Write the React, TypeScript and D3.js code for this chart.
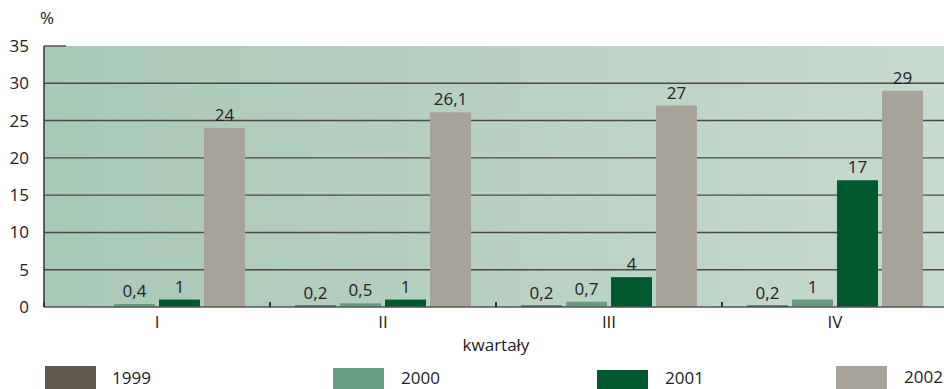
import React from "react";
import * as d3 from "d3";

const quarters = ["I", "II", "III", "IV"];
const seriesNames = ["1999", "2000", "2001", "2002"];
const values1999 = [0, 0.2, 0.2, 0.2];
const values2000 = [0.4, 0.5, 0.7, 1];
const values2001 = [1, 1, 4, 17];
const values2002 = [24, 26.1, 27, 29];
const labels1999 = ["", "0,2", "0,2", "0,2"];
const labels2000 = ["0,4", "0,5", "0,7", "1"];
const labels2001 = ["1", "1", "4", "17"];
const labels2002 = ["24", "26,1", "27", "29"];
const yTicks = [0, 5, 10, 15, 20, 25, 30, 35];

const legendColors = ["#615a4c", "#679c80", "#005a2d", "#a8a398"];
const barColors = ["#005a2d", "#679c80", "#005a2d", "#a8a398"];

const W = 944;
const H = 389;
const FONT = "'Open Sans', 'Noto Sans', sans-serif";

export default function App() {
  const allValues = [values1999, values2000, values2001, values2002];
  const allLabels = [labels1999, labels2000, labels2001, labels2002];
  const x = d3.scaleBand<string>().domain(quarters).range([44, 948]).paddingInner(0).paddingOuter(0);
  const y = d3.scaleLinear().domain([0, 35]).range([307, 46]);
  const inner = d3.scaleBand<string>().domain(seriesNames).range([25, 25 + 176]).paddingInner(4 / 45);
  const bw = inner.bandwidth();

  const legendPos = [
    { rx: 45, ry: 366, tx: 112, ty: 384 },
    { rx: 333, ry: 368, tx: 401, ty: 384 },
    { rx: 597, ry: 370, tx: 665, ty: 384 },
    { rx: 836, ry: 366, tx: 904, ty: 383 },
  ];

  return (
    <svg width={W} height={H} style={{ position: "absolute", left: 0, top: 0 }} fontFamily={FONT}>
      <defs>
        <linearGradient id="bg" x1="0" x2="1" y1="0" y2="0">
          <stop offset="0" stopColor="#a9c8b6" />
          <stop offset="1" stopColor="#c6dacd" />
        </linearGradient>
      </defs>
      <rect x={44} y={y(35)} width={W - 44} height={y(0) - y(35)} fill="url(#bg)" />
      {yTicks.filter((t) => t > 0 && t < 35).map((t) => (
        <line key={t} x1={44} x2={W} y1={y(t)} y2={y(t)} stroke="#4a4a4a" strokeWidth={1.4} />
      ))}
      <line x1={44} x2={66} y1={y(35)} y2={y(35)} stroke="#4a4a4a" strokeWidth={1.4} />
      {quarters.map((q, qi) =>
        seriesNames.map((s, si) => {
          const v = allValues[si][qi];
          if (v <= 0) return null;
          const bx = (x(q) as number) + (inner(s) as number);
          return (
            <rect key={q + s} x={bx} y={y(v)} width={bw} height={y(0) - y(v)} fill={barColors[si]} />
          );
        })
      )}
      {quarters.map((q, qi) =>
        seriesNames.map((s, si) => {
          const v = allValues[si][qi];
          const lab = allLabels[si][qi];
          if (!lab) return null;
          const bx = (x(q) as number) + (inner(s) as number) + bw / 2;
          return (
            <text key={"l" + q + s} x={bx} y={y(v) - 7} textAnchor="middle" fontSize={17} fill="#222">
              {lab}
            </text>
          );
        })
      )}
      <line x1={44} x2={44} y1={y(35)} y2={y(0)} stroke="#333" strokeWidth={1.5} />
      <line x1={44} x2={W} y1={y(0)} y2={y(0)} stroke="#555" strokeWidth={1.5} />
      {quarters.map((q) => (
        <line key={"t" + q} x1={x(q) as number} x2={x(q) as number} y1={y(0) - 5} y2={y(0)} stroke="#333" strokeWidth={2} />
      ))}
      {yTicks.map((t) => (
        <text key={"y" + t} x={29} y={y(t) + 6} textAnchor="end" fontSize={17} fill="#222">
          {t}
        </text>
      ))}
      <text x={40} y={24} fontSize={17} fill="#222">%</text>
      {quarters.map((q) => (
        <text key={"c" + q} x={(x(q) as number) + x.bandwidth() / 2} y={328} textAnchor="middle" fontSize={17} fill="#222">
          {q}
        </text>
      ))}
      <text x={496} y={351} textAnchor="middle" fontSize={17} fill="#222">kwartały</text>
      {seriesNames.map((s, i) => (
        <g key={"lg" + s}>
          <rect x={legendPos[i].rx} y={legendPos[i].ry} width={51} height={H - legendPos[i].ry} fill={legendColors[i]} />
          <text x={legendPos[i].tx} y={legendPos[i].ty} fontSize={17} fill="#222">{s}</text>
        </g>
      ))}
    </svg>
  );
}
